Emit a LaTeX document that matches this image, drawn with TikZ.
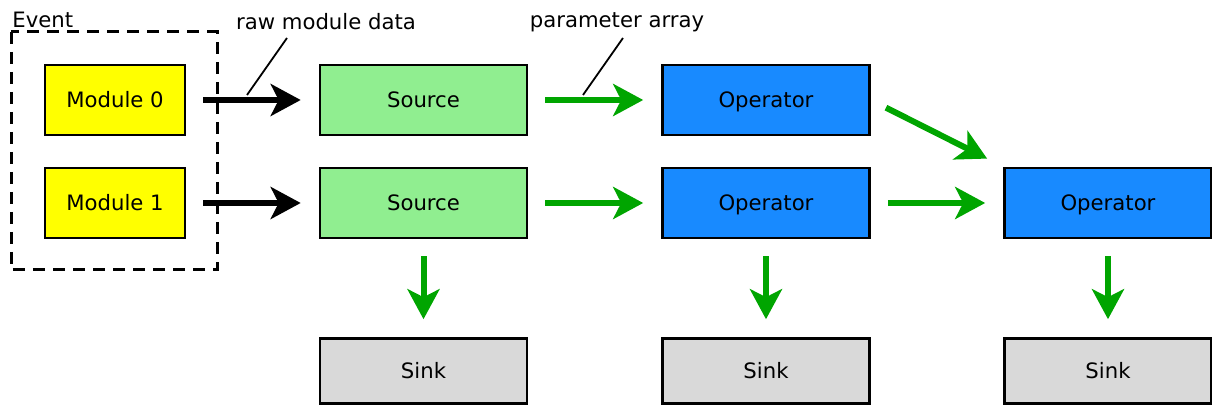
\documentclass[tikz,border=0pt]{standalone}
\usepackage{fontspec}
\setmainfont{DejaVu Sans}
\usepackage{tikz}
\usepackage{xcolor}
\usetikzlibrary{arrows.meta}
\definecolor{modyellow}{RGB}{255,255,0}
\definecolor{srcgreen}{RGB}{144,238,144}
\definecolor{opblue}{RGB}{24,138,255}
\definecolor{sinkgray}{RGB}{217,217,217}
\definecolor{flowgreen}{RGB}{0,165,0}

\begin{document}
\begin{tikzpicture}[x=0.5pt, y=-0.5pt, >={Stealth[length=15pt,width=16pt,inset=4pt]},
    box/.style={draw=black, line width=1.3pt, minimum width=103.5pt, minimum height=35pt,
        inner sep=0pt, text height=7.6pt, text depth=0pt, font=\fontsize{10.6}{12}\selectfont},
    flow/.style={->, line width=3pt, shorten <=8.5pt, shorten >=9pt},
    note/.style={font=\fontsize{10.6}{12}\selectfont, inner sep=0pt}]
    \useasboundingbox (0,0) rectangle (1212,406);

    % Event frame with the two modules
    \draw[line width=1.5pt, dash pattern=on 6pt off 4pt] (11,32) rectangle (217,270);
    \node[note, anchor=base west] (event) at (12,28) {Event};
    \node[box, fill=modyellow, minimum width=70pt] (mod0) at (115,100) {Module 0};
    \node[box, fill=modyellow, minimum width=70pt] (mod1) at (115,203) {Module 1};

    % Sources
    \node[box, fill=srcgreen] (src0) at (423.5,100) {Source};
    \node[box, fill=srcgreen] (src1) at (423.5,203) {Source};

    % Operators
    \node[box, fill=opblue] (op0) at (766,100) {Operator};
    \node[box, fill=opblue] (op1) at (766,203) {Operator};
    \node[box, fill=opblue] (op2) at (1108,203) {Operator};

    % Sinks
    \node[box, fill=sinkgray, minimum height=32.5pt] (sink0) at (423.5,371) {Sink};
    \node[box, fill=sinkgray, minimum height=32.5pt] (sink1) at (766,371) {Sink};
    \node[box, fill=sinkgray, minimum height=32.5pt] (sink2) at (1108,371) {Sink};

    % Data flow
    \draw[flow] (mod0) -- (src0);
    \draw[flow] (mod1) -- (src1);
    \draw[flow, flowgreen] (src0) -- (op0);
    \draw[flow, flowgreen] (src1) -- (op1);
    \draw[flow, flowgreen] (op0.east) -- (op2.north west);
    \draw[flow, flowgreen] (op1) -- (op2);
    \draw[flow, flowgreen] (src1) -- (sink0);
    \draw[flow, flowgreen] (op1) -- (sink1);
    \draw[flow, flowgreen] (op2) -- (sink2);

    % Annotations
    \node[note] (rawlbl) at (326,22) {raw module data};
    \node[note] (parlbl) at (617,22) {parameter array};
    \coordinate (rawfoot) at (247,95);
    \coordinate (rawhead) at (287,38);
    \coordinate (parfoot) at (583,95);
    \coordinate (parhead) at (623,38);
    \draw[line width=0.9pt] (rawfoot) -- (rawhead);
    \draw[line width=0.9pt] (parfoot) -- (parhead);
\end{tikzpicture}
\end{document}
